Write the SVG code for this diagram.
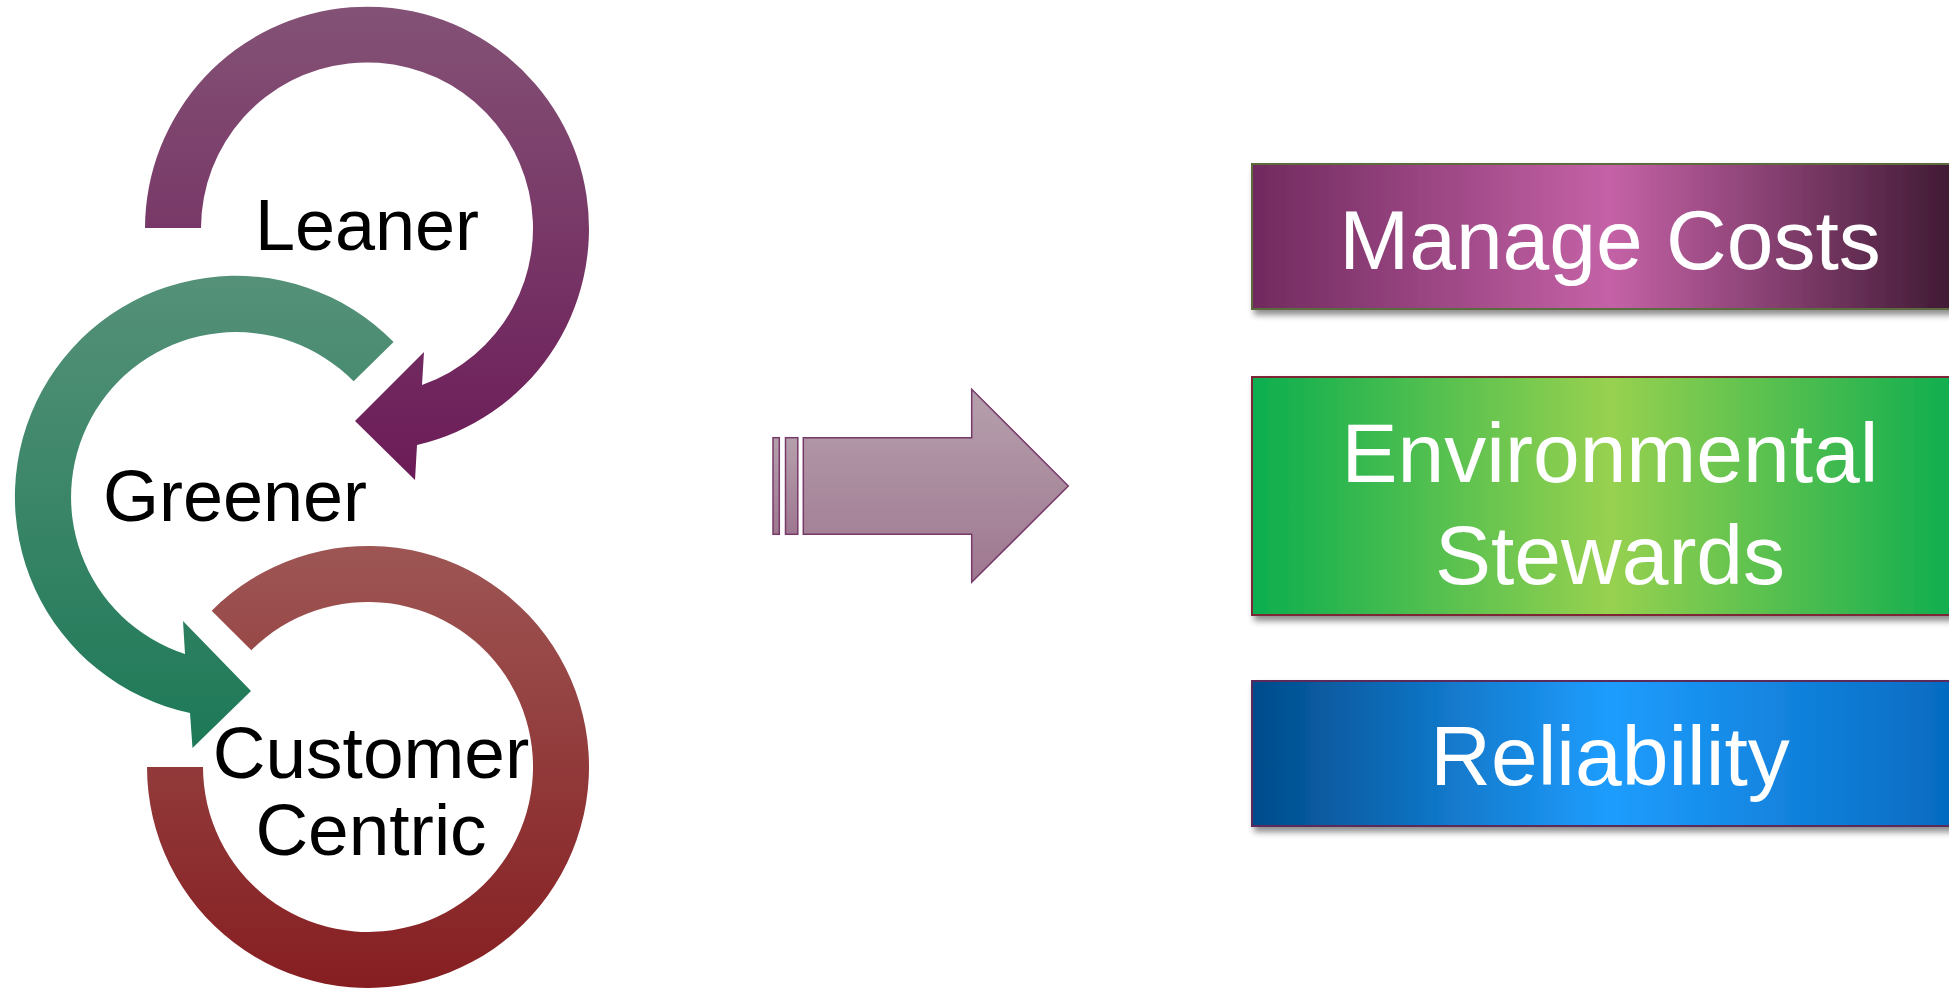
<svg xmlns="http://www.w3.org/2000/svg" width="1949" height="988" viewBox="0 0 1949 988">
  <style>
    .lbl { font-family: "Liberation Sans", Arial, sans-serif; font-size: 72px; fill: #000; text-anchor: middle; }
    .lbl2 { font-size: 73px; }
    .box-lbl { font-family: "Liberation Sans", Arial, sans-serif; font-size: 84px; fill: #fff; text-anchor: middle; }
    .box { stroke-width: 2; filter: url(#shadow); }
  </style>
  <defs>
    <linearGradient id="gPurple" x1="0" y1="0" x2="0" y2="1">
      <stop offset="0" stop-color="#845276"/>
      <stop offset="1" stop-color="#6b1b57"/>
    </linearGradient>
    <linearGradient id="gGreen" x1="0" y1="0" x2="0" y2="1">
      <stop offset="0" stop-color="#559179"/>
      <stop offset="1" stop-color="#1d7957"/>
    </linearGradient>
    <linearGradient id="gRed" x1="0" y1="0" x2="0" y2="1">
      <stop offset="0" stop-color="#9d5654"/>
      <stop offset="1" stop-color="#861e21"/>
    </linearGradient>
    <linearGradient id="gArrow" x1="0" y1="0" x2="0" y2="1">
      <stop offset="0" stop-color="#b6a0ad"/>
      <stop offset="1" stop-color="#9e7790"/>
    </linearGradient>
    <linearGradient id="gBox1" gradientUnits="userSpaceOnUse" x1="1252" y1="0" x2="1968" y2="0">
      <stop offset="0" stop-color="#702a5e"/>
      <stop offset="0.5" stop-color="#c562a7"/>
      <stop offset="1" stop-color="#3a172f"/>
    </linearGradient>
    <linearGradient id="gBox2" gradientUnits="userSpaceOnUse" x1="1252" y1="0" x2="1968" y2="0">
      <stop offset="0" stop-color="#0bae4f"/>
      <stop offset="0.5" stop-color="#98d150"/>
      <stop offset="1" stop-color="#0aac50"/>
    </linearGradient>
    <linearGradient id="gBox3" gradientUnits="userSpaceOnUse" x1="1252" y1="0" x2="1968" y2="0">
      <stop offset="0" stop-color="#024b8a"/>
      <stop offset="0.5" stop-color="#1f9dfe"/>
      <stop offset="1" stop-color="#0468bd"/>
    </linearGradient>
    <filter id="shadow" x="-5%" y="-10%" width="115%" height="130%">
      <feDropShadow dx="3" dy="5" stdDeviation="3" flood-color="#000" flood-opacity="0.45"/>
    </filter>
  </defs>

  <g id="node-greener">
    <path fill="url(#gGreen)" d="M 393.6 342 A 221 221 0 1 0 190 713 L 192.5 748 L 251 691 L 183 621 L 185 654 A 165 165 0 1 1 353.6 381.3 Z"/>
    <text class="lbl" x="235" y="521">Greener</text>
  </g>

  <g id="node-leaner">
    <path fill="url(#gPurple)" d="M 145 228 A 222 222 0 1 1 417 445 L 415 480 L 355 421 L 424 352 L 422 385 A 166 166 0 1 0 201 228 Z"/>
    <text class="lbl" x="367" y="250">Leaner</text>
  </g>

  <g id="node-customer">
    <path fill="url(#gRed)" d="M 147 767 A 221 221 0 1 0 211.7 610.7 L 251.3 650.3 A 165 165 0 1 1 203 767 Z"/>
    <text class="lbl lbl2" x="371" y="778">Customer</text>
    <text class="lbl lbl2" x="371" y="855">Centric</text>
  </g>

  <g id="connectors">
    <g fill="url(#gArrow)" stroke="#773a68" stroke-width="1.5">
      <rect x="773" y="437.7" width="6.3" height="96.6"/>
      <rect x="785.5" y="437.7" width="12.3" height="96.6"/>
      <path d="M 803.3 437.7 H 971.7 V 389.3 L 1068.3 486 L 971.7 582.3 V 534.3 H 803.3 Z"/>
    </g>
  </g>

  <g id="node-manage-costs">
    <rect class="box" x="1252" y="164" width="716" height="145" fill="url(#gBox1)" stroke="#5d6b3e"/>
    <text class="box-lbl" x="1610" y="269">Manage Costs</text>
  </g>

  <g id="node-environmental">
    <rect class="box" x="1252" y="377" width="716" height="238" fill="url(#gBox2)" stroke="#7e2636"/>
    <text class="box-lbl" x="1610" y="482">Environmental</text>
    <text class="box-lbl" x="1610" y="584">Stewards</text>
  </g>

  <g id="node-reliability">
    <rect class="box" x="1252" y="681" width="716" height="145" fill="url(#gBox3)" stroke="#5a2b5a"/>
    <text class="box-lbl" x="1610" y="785">Reliability</text>
  </g>
</svg>
